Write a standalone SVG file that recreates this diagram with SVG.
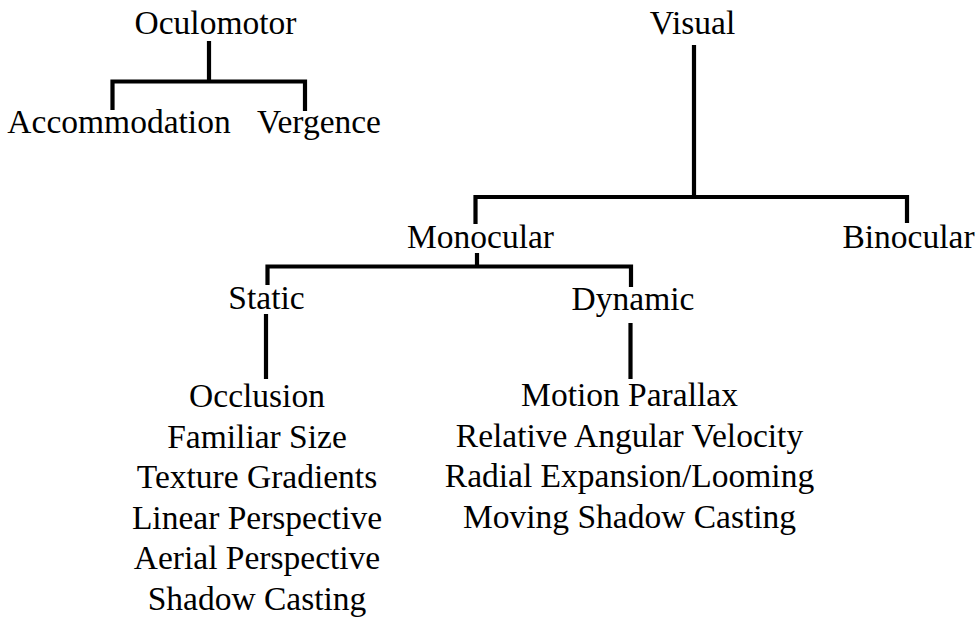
<svg xmlns="http://www.w3.org/2000/svg" width="980" height="624" viewBox="0 0 980 624">
  <style>
    .lbl { font-family: "Liberation Serif", "Times New Roman", serif; font-size: 33.5px; fill: #000; text-anchor: middle; }
    .edge { fill: none; stroke: #000; stroke-width: 4.2; stroke-linejoin: miter; stroke-linecap: butt; }
  </style>
  <rect width="980" height="624" fill="#fff"/>

  <!-- tree connectors -->
  <g id="connectors">
    <!-- Oculomotor branch -->
    <path class="edge" d="M209,41 V81.5"/>
    <path class="edge" d="M112.5,110 V81.5 H305 V111"/>
    <!-- Visual branch -->
    <path class="edge" d="M694,45 V197"/>
    <path class="edge" d="M475.5,224 V197 H907 V223"/>
    <!-- Monocular branch -->
    <path class="edge" d="M477,253 V266.5"/>
    <path class="edge" d="M267.5,285 V266.5 H631 V287"/>
    <!-- Static / Dynamic to their cue lists -->
    <path class="edge" d="M266,314 V379"/>
    <path class="edge" d="M630.5,323 V379"/>
  </g>

  <g id="oculomotor"><text class="lbl" x="215.5" y="33.5">Oculomotor</text></g>
  <g id="accommodation"><text class="lbl" x="119" y="133">Accommodation</text></g>
  <g id="vergence"><text class="lbl" x="319" y="133">Vergence</text></g>

  <g id="visual"><text class="lbl" x="692.5" y="34">Visual</text></g>
  <g id="monocular"><text class="lbl" x="480.5" y="248">Monocular</text></g>
  <g id="binocular"><text class="lbl" x="908.5" y="248">Binocular</text></g>

  <g id="static"><text class="lbl" x="266.5" y="308.5">Static</text></g>
  <g id="dynamic"><text class="lbl" x="633" y="309.5">Dynamic</text></g>

  <g id="static-cues">
    <text class="lbl" x="257" y="407">Occlusion</text>
    <text class="lbl" x="257" y="447.5">Familiar Size</text>
    <text class="lbl" x="257" y="488">Texture Gradients</text>
    <text class="lbl" x="257" y="528.5">Linear Perspective</text>
    <text class="lbl" x="257" y="569">Aerial Perspective</text>
    <text class="lbl" x="257" y="609.5">Shadow Casting</text>
  </g>

  <g id="dynamic-cues">
    <text class="lbl" x="629.5" y="406">Motion Parallax</text>
    <text class="lbl" x="629.5" y="446.5">Relative Angular Velocity</text>
    <text class="lbl" x="629.5" y="487">Radial Expansion/Looming</text>
    <text class="lbl" x="629.5" y="527.5">Moving Shadow Casting</text>
  </g>
</svg>
